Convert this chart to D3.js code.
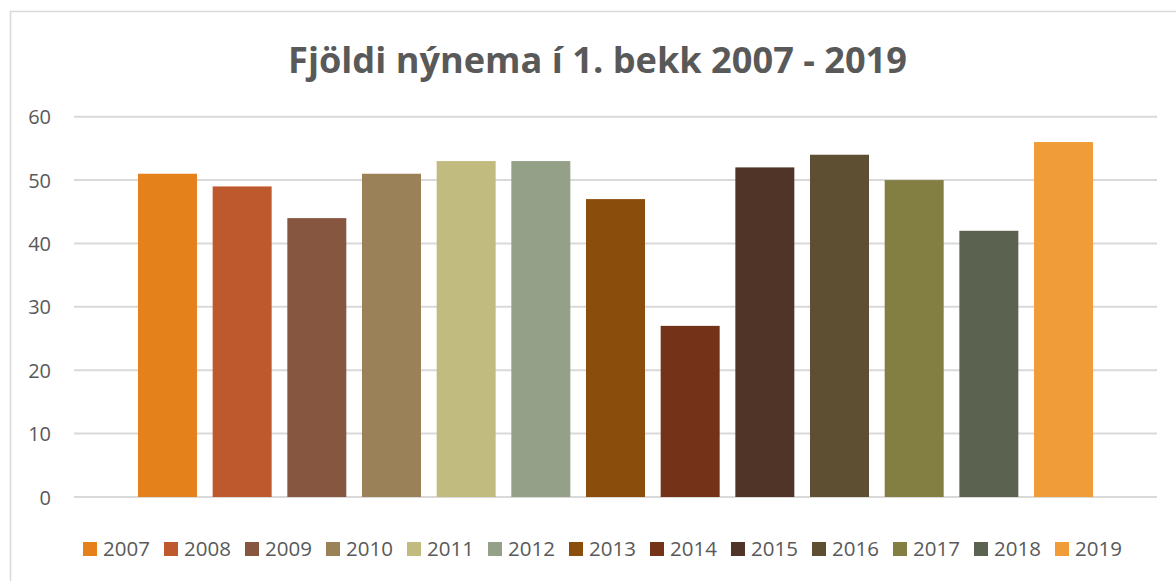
<!DOCTYPE html>
<html>
<head>
<meta charset="utf-8">
<script src="https://cdn.jsdelivr.net/npm/d3@7"></script>
<style>
  html, body { margin: 0; padding: 0; background: #fff; }
  svg { display: block; }
  text { font-family: "Open Sans", "Noto Sans", sans-serif; fill: #595959; }
</style>
</head>
<body>
<svg id="chart" width="1176" height="581"></svg>
<script>
const years = ["2007","2008","2009","2010","2011","2012","2013","2014","2015","2016","2017","2018","2019"];
const values = [51, 49, 44, 51, 53, 53, 47, 27, 52, 54, 50, 42, 56];
const colors = ["#E4811A","#BE582D","#875641","#9A8157","#C2BB80","#94A087","#8A4D0C","#743219","#503427","#5E4F33","#837E41","#5B6350","#F09C38"];
const yTicks = [0, 10, 20, 30, 40, 50, 60];
const titleText = "Fjöldi nýnema í 1. bekk 2007 - 2019";

const svg = d3.select("#chart");

// chart border
svg.append("rect")
  .attr("x", 10.5).attr("y", 11.5)
  .attr("width", 1300).attr("height", 700)
  .attr("fill", "none").attr("stroke", "#d9d9d9").attr("stroke-width", 1.5);

const plot = { left: 74, right: 1157, top: 116.7, bottom: 497 };

const x = d3.scaleBand()
  .domain(years)
  .range([plot.left, plot.right])
  .paddingInner(0.21)
  .paddingOuter(0.857);

const y = d3.scaleLinear()
  .domain([0, 60])
  .range([plot.bottom, plot.top]);

// gridlines
svg.append("g").selectAll("line")
  .data(yTicks)
  .join("line")
  .attr("x1", plot.left).attr("x2", plot.right)
  .attr("y1", d => y(d)).attr("y2", d => y(d))
  .attr("stroke", "#d9d9d9").attr("stroke-width", 2);

// y axis labels
const yAxis = d3.axisLeft(y).tickValues(yTicks).tickSize(0).tickPadding(0);
const gy = svg.append("g").attr("transform", `translate(51,0)`).call(yAxis);
gy.select(".domain").remove();
gy.selectAll("text")
  .attr("font-family", "Open Sans, Noto Sans, sans-serif")
  .attr("font-size", 20)
  .attr("fill", "#595959")
  .attr("dy", "0.35em");

// bars
svg.append("g").selectAll("rect")
  .data(years)
  .join("rect")
  .attr("x", d => x(d))
  .attr("width", x.bandwidth())
  .attr("y", (d, i) => y(values[i]))
  .attr("height", (d, i) => y(0) - y(values[i]))
  .attr("fill", (d, i) => colors[i]);

// title
const title = svg.append("text")
  .attr("x", 597.5).attr("y", 73)
  .attr("text-anchor", "middle")
  .attr("font-weight", "bold")
  .attr("font-size", 36)
  .style("fill", "#595959")
  .text(titleText);
{
  const len = title.node().getComputedTextLength();
  const target = 619;
  title.attr("font-size", 36 * target / len);
}

// legend
const legendX = d3.scalePoint().domain(years).range([83, 1055]);
const lg = svg.append("g").selectAll("g")
  .data(years)
  .join("g")
  .attr("transform", d => `translate(${legendX(d)},542)`);
lg.append("rect")
  .attr("width", 14).attr("height", 14)
  .attr("fill", (d, i) => colors[i]);
lg.append("text")
  .attr("x", 20).attr("y", 14)
  .attr("font-size", 20.5)
  .text(d => d);
</script>
</body>
</html>
